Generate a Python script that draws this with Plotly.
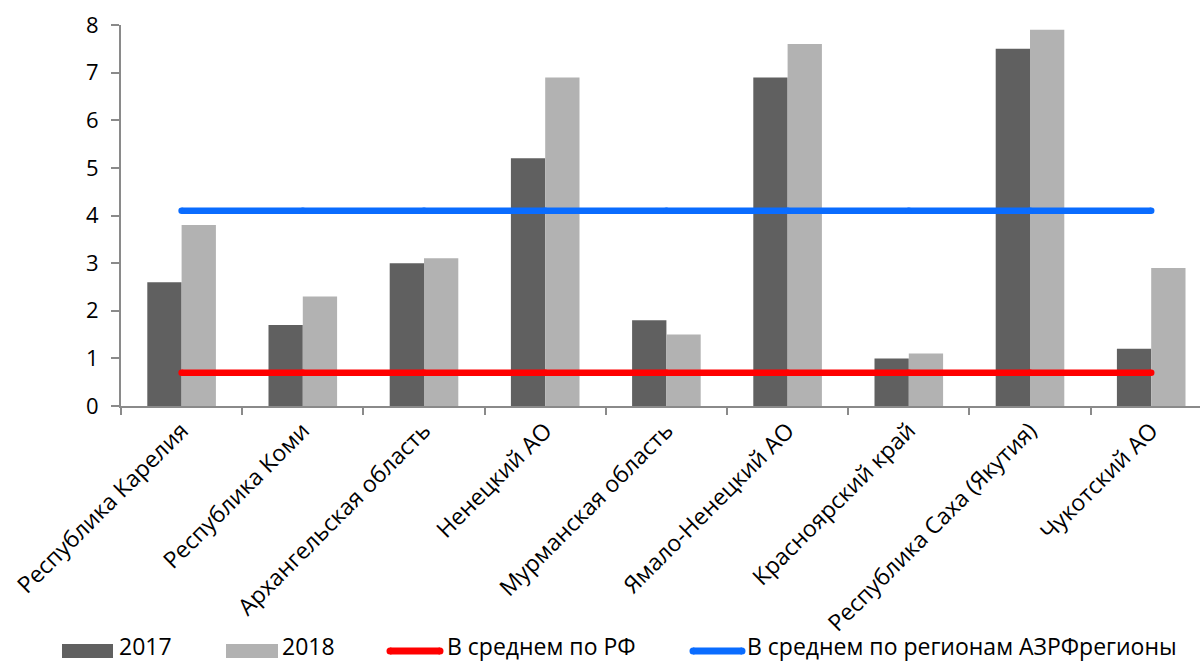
import plotly.graph_objects as go

regions = [
    "Республика Карелия",
    "Республика Коми",
    "Архангельская область",
    "Ненецкий АО",
    "Мурманская область",
    "Ямало-Ненецкий АО",
    "Красноярский край",
    "Республика Саха (Якутия)",
    "Чукотский АО",
]
values_2017 = [2.6, 1.7, 3.0, 5.2, 1.8, 6.9, 1.0, 7.5, 1.2]
values_2018 = [3.8, 2.3, 3.1, 6.9, 1.5, 7.6, 1.1, 7.9, 2.9]
avg_rf = 0.7
avg_azrf = 4.1
y_ticks = [0, 1, 2, 3, 4, 5, 6, 7, 8]

legend_labels = ["2017", "2018", "В среднем по РФ", "В среднем по регионам АЗРФрегионы"]

DARK = "#606060"
LIGHT = "#b2b2b2"
RED = "#ff0000"
BLUE = "#0a6cff"
AXIS = "#8a8a8a"
FONT = "Open Sans"
FS = 23

W, H = 1200, 663
L, R, T, B = 121, 0, 25, 257
PW, PH = W - L - R, H - T - B


def px(x):
    return (x - L) / PW


def py(y):
    return (H - B - y) / PH


fig = go.Figure()
fig.add_bar(x=regions, y=values_2017, name=legend_labels[0], marker_color=DARK,
            marker_line_width=0, showlegend=False)
fig.add_bar(x=regions, y=values_2018, name=legend_labels[1], marker_color=LIGHT,
            marker_line_width=0, showlegend=False)
for val, col, name in [(avg_rf, RED, legend_labels[2]), (avg_azrf, BLUE, legend_labels[3])]:
    fig.add_scatter(x=regions, y=[val] * len(regions), mode="lines+markers", name=name,
                    line=dict(color=col, width=6.5),
                    marker=dict(color=col, size=6.5, line_width=0),
                    showlegend=False)

cat_px = 121.2
fig.update_layout(
    width=W, height=H,
    margin=dict(l=L, r=R, t=T, b=B, autoexpand=False),
    paper_bgcolor="white", plot_bgcolor="white",
    barmode="group", bargap=0.434, bargroupgap=0,
    font=dict(family=FONT, size=FS, color="black"),
    xaxis=dict(
        type="category", range=[-0.5, -0.5 + PW / cat_px],
        showline=True, linecolor=AXIS, linewidth=2,
        ticks="outside", tickson="boundaries", ticklen=7, tickcolor=AXIS, tickwidth=2,
        tickangle=-45, showgrid=False, automargin=False,
        tickfont=dict(family=FONT, size=FS, color="black"),
    ),
    yaxis=dict(
        range=[0, 8], tickvals=y_ticks,
        showline=True, linecolor=AXIS, linewidth=2,
        ticks="outside", ticklen=8, tickcolor=AXIS, tickwidth=2,
        showgrid=False, zeroline=False, automargin=False,
        ticklabelstandoff=8,
        tickfont=dict(family=FONT, size=22, color="black"),
    ),
)

# legend row along the bottom edge
shapes = []
annotations = []
leg_y = 651
text_y = 646
items = [
    ("rect", DARK, 62, 113, 117, legend_labels[0]),
    ("rect", LIGHT, 226, 278, 280, legend_labels[1]),
    ("line", RED, 390, 440, 445, legend_labels[2]),
    ("line", BLUE, 693, 742, 745, legend_labels[3]),
]
for kind, col, x0, x1, tx, label in items:
    if kind == "rect":
        shapes.append(dict(type="rect", xref="paper", yref="paper",
                           x0=px(x0), x1=px(x1), y0=py(leg_y + 7), y1=py(leg_y - 7),
                           fillcolor=col, line_width=0))
    else:
        shapes.append(dict(type="line", xref="paper", yref="paper",
                           x0=px(x0), x1=px(x1), y0=py(leg_y), y1=py(leg_y),
                           line=dict(color=col, width=7)))
        for xc in (x0, x1):
            shapes.append(dict(type="circle", xref="paper", yref="paper",
                               x0=px(xc - 3.5), x1=px(xc + 3.5),
                               y0=py(leg_y + 3.5), y1=py(leg_y - 3.5),
                               fillcolor=col, line_width=0))
    annotations.append(dict(text=label, xref="paper", yref="paper",
                            x=px(tx), y=py(text_y), xanchor="left", yanchor="middle",
                            showarrow=False, font=dict(family=FONT, size=FS, color="black")))

fig.update_layout(shapes=shapes, annotations=annotations)

fig.write_html("out.html")
